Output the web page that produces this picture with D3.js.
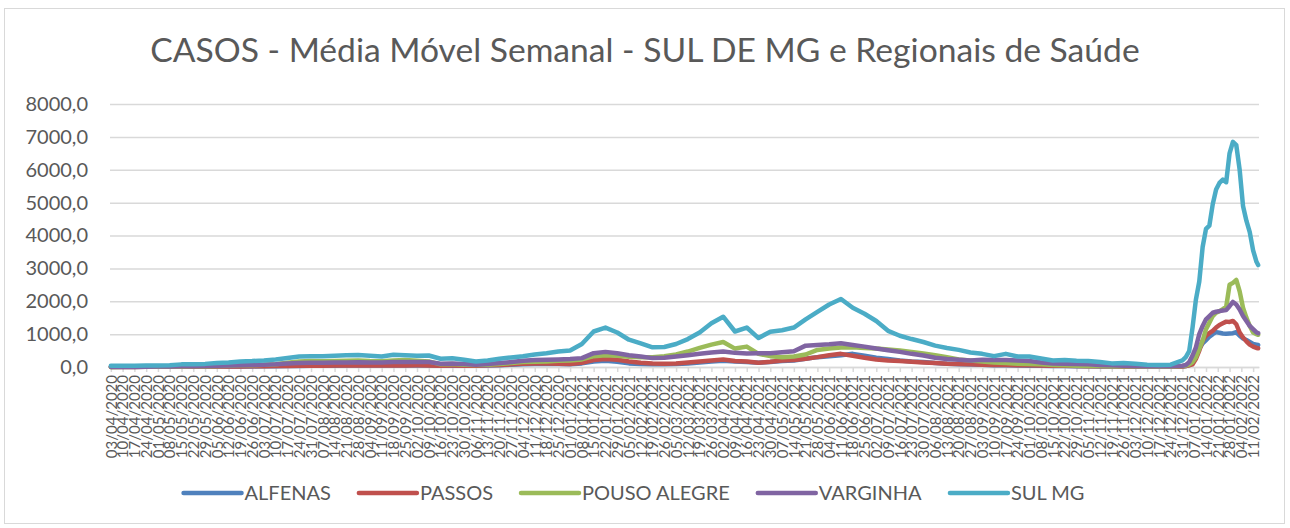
<!DOCTYPE html>
<html>
<head>
<meta charset="utf-8">
<script src="https://cdn.jsdelivr.net/npm/d3@7"></script>
<style>
  body { margin: 0; background: #fff; }
  svg { font-family: Lato, "Open Sans", sans-serif; }
</style>
</head>
<body>
<svg id="chart" width="1290" height="528"></svg>
<script>
// rótulos do eixo x (um por semana)
const tickLabels = [
  "03/04/2020","10/04/2020","17/04/2020","24/04/2020","01/05/2020","08/05/2020","15/05/2020","22/05/2020","29/05/2020","05/06/2020",
  "12/06/2020","19/06/2020","26/06/2020","03/07/2020","10/07/2020","17/07/2020","24/07/2020","31/07/2020","07/08/2020","14/08/2020",
  "21/08/2020","28/08/2020","04/09/2020","11/09/2020","18/09/2020","25/09/2020","02/10/2020","09/10/2020","16/10/2020","23/10/2020",
  "30/10/2020","06/11/2020","13/11/2020","20/11/2020","27/11/2020","04/12/2020","11/12/2020","18/12/2020","25/12/2020","01/01/2021",
  "08/01/2021","15/01/2021","22/01/2021","29/01/2021","05/02/2021","12/02/2021","19/02/2021","26/02/2021","05/03/2021","12/03/2021",
  "19/03/2021","26/03/2021","02/04/2021","09/04/2021","16/04/2021","23/04/2021","30/04/2021","07/05/2021","14/05/2021","21/05/2021",
  "28/05/2021","04/06/2021","11/06/2021","18/06/2021","25/06/2021","02/07/2021","09/07/2021","16/07/2021","23/07/2021","30/07/2021",
  "06/08/2021","13/08/2021","20/08/2021","27/08/2021","03/09/2021","10/09/2021","17/09/2021","24/09/2021","01/10/2021","08/10/2021",
  "15/10/2021","22/10/2021","29/10/2021","05/11/2021","12/11/2021","19/11/2021","26/11/2021","03/12/2021","10/12/2021","17/12/2021",
  "24/12/2021","31/12/2021","07/01/2022","14/01/2022","21/01/2022","28/01/2022","04/02/2022","11/02/2022"
];

// datas dos pontos: semanais até 31/12/2021, depois a cada 2 dias
const extraDates = [
  "02/01/2022","04/01/2022","06/01/2022","08/01/2022","10/01/2022","12/01/2022","14/01/2022","16/01/2022",
  "18/01/2022","20/01/2022","22/01/2022","24/01/2022","26/01/2022","28/01/2022","30/01/2022","01/02/2022",
  "03/02/2022","05/02/2022","07/02/2022","09/02/2022","11/02/2022","13/02/2022","14/02/2022"
];
const sampleDates = tickLabels.slice(0, 92).concat(extraDates);

const seriesNames = ["ALFENAS", "PASSOS", "POUSO ALEGRE", "VARGINHA", "SUL MG"];
const seriesColors = ["#4F81BD", "#C0504D", "#9BBB59", "#8064A2", "#4BACC6"];

const alfenas = [
  2,2,3,4,5,6,7,8,10,12, 14,16,18,22,26,30,33,36,38,40,
  42,44,43,42,44,46,48,46,38,40, 38,38,45,55,70,80,90,95,90,85,
  110,170,190,160,110,90,80,80,90,110, 140,170,190,170,150,130,150,180,200,250,
  300,330,360,400,340,280,240,200,170,150, 120,100,85,75,65,55,50,45,40,35,
  30,28,25,20,18,15,12,10,8,8, 8,15,
  30,60,150,350,550,720,820,920,1000,1060,1040,1020,1010,1020,1030,1060,950,870,820,760,700,680,670
];
const passos = [
  2,2,3,4,5,6,8,10,12,14, 16,18,20,24,28,32,35,38,40,42,
  44,46,45,44,46,48,50,48,40,42, 40,40,50,60,80,100,110,110,100,90,
  130,210,240,220,170,130,110,100,110,140, 170,200,230,180,170,130,160,200,210,250,
  300,360,400,340,280,230,200,180,160,140, 120,100,90,80,70,60,60,55,50,45,
  40,35,30,25,20,20,15,15,10,10, 10,15,
  30,50,80,250,500,800,950,1030,1100,1200,1280,1330,1380,1370,1400,1300,1050,900,780,680,620,580,570
];
const pousoAlegre = [
  3,4,6,8,10,12,16,20,25,30, 40,50,55,65,85,130,170,180,175,180,
  190,200,180,175,200,210,190,170,80,90, 70,60,70,90,120,150,160,170,190,200,
  230,330,360,340,310,300,300,330,380,470, 580,680,760,560,620,400,330,300,320,380,
  520,560,590,600,580,560,530,500,460,410, 360,300,230,200,170,140,120,100,90,80,
  60,50,40,30,30,25,20,20,15,15, 15,30,
  40,80,150,300,550,800,1150,1350,1550,1650,1700,1760,1830,2500,2560,2650,2300,1800,1500,1250,1050,1000,980
];
const varginha = [
  5,5,8,10,12,15,20,25,30,35, 45,55,60,70,85,110,125,130,130,135,
  140,145,140,140,150,150,150,150,100,110, 90,70,90,120,150,190,210,220,230,240,
  270,420,460,420,360,320,270,280,320,360, 400,440,470,430,410,420,420,450,480,650,
  670,690,720,670,620,560,510,460,400,350, 280,240,220,200,220,210,210,200,180,140,
  110,100,90,80,60,50,35,30,25,20, 20,40,
  60,150,350,600,1000,1250,1450,1550,1650,1680,1700,1720,1730,1850,1980,1900,1750,1550,1400,1250,1150,1050,1030
];
const sulMG = [
  40,40,40,45,45,50,80,80,95,120, 140,170,180,200,230,275,320,330,330,340,
  355,365,345,320,375,360,340,350,250,265, 220,170,200,250,290,330,380,420,470,500,
  700,1080,1200,1050,830,720,600,610,700,850, 1050,1330,1530,1080,1200,880,1075,1120,1200,1450,
  1680,1900,2070,1800,1620,1400,1100,950,850,760, 650,580,520,440,400,330,400,320,320,260,
  200,210,190,180,150,110,120,100,70,60, 70,200,
  300,480,1200,2050,2600,3650,4200,4300,4950,5400,5600,5700,5620,6500,6850,6750,6000,4900,4450,4100,3550,3200,3100
];
const seriesValues = [alfenas, passos, pousoAlegre, varginha, sulMG];

const yTicks = [0, 1000, 2000, 3000, 4000, 5000, 6000, 7000, 8000];

const width = 1290;
const height = 528;
const margin = ({top: 104, right: 31, bottom: 161, left: 110});
const textColor = "#595959";
const gridColor = "#D9D9D9";

const parse = d3.timeParse("%d/%m/%Y");
const fmt = d3.formatLocale({decimal: ",", thousands: ".", grouping: [3], currency: ["", ""]}).format(".1f");

const firstDay = parse(tickLabels[0]);
const lastDay = parse(extraDates[extraDates.length - 1]);

const x = d3.scaleTime()
    .domain([d3.timeHour.offset(firstDay, -12), d3.timeHour.offset(lastDay, 12)])
    .range([margin.left, width - margin.right]);

const y = d3.scaleLinear()
    .domain([0, 8000])
    .range([height - margin.bottom, margin.top]);

const svg = d3.select("#chart");

// moldura
svg.append("rect")
    .attr("x", 4.5).attr("y", 8.5)
    .attr("width", 1280).attr("height", 515)
    .attr("fill", "#fff")
    .attr("stroke", gridColor);

// título
const title = svg.append("text")
    .attr("x", 645).attr("y", 62)
    .attr("text-anchor", "middle")
    .attr("fill", textColor)
    .attr("font-size", 34)
    .text("CASOS - Média Móvel Semanal - SUL DE MG e Regionais de Saúde");
const tl = title.node().getComputedTextLength();
title.attr("font-size", 34 * 990 / tl);

// eixo y + grade
svg.append("g")
    .attr("transform", `translate(${margin.left},0)`)
    .call(d3.axisLeft(y).tickValues(yTicks).tickFormat(fmt)
        .tickSize(-(width - margin.left - margin.right)).tickPadding(22))
    .call(g => g.select(".domain").remove())
    .call(g => g.selectAll("line").attr("stroke", gridColor).attr("stroke-width", 1.5))
    .call(g => g.selectAll("text").attr("fill", textColor).attr("font-size", 20).attr("font-family", "Lato"));

// eixo x
svg.append("g")
    .attr("transform", `translate(0,${height - margin.bottom})`)
    .call(d3.axisBottom(x).tickValues(tickLabels.map(parse)).tickFormat(d3.timeFormat("%d/%m/%Y"))
        .tickSize(5).tickSizeOuter(0))
    .call(g => g.select(".domain").attr("stroke", gridColor).attr("stroke-width", 1.5))
    .call(g => g.selectAll("line").attr("stroke", gridColor).attr("stroke-width", 1.5))
    .call(g => g.selectAll("text")
        .attr("fill", textColor)
        .attr("font-size", 15)
        .attr("font-family", "Lato")
        .attr("text-anchor", "end")
        .attr("transform", "rotate(-90)")
        .attr("x", -8).attr("y", 0).attr("dy", "0.35em"));

// linhas
const line = d3.line()
    .x((d, i) => x(parse(sampleDates[i])))
    .y(d => y(d));

svg.append("g")
    .selectAll("path")
    .data(seriesValues)
    .join("path")
    .attr("d", d => line(d))
    .attr("fill", "none")
    .attr("stroke", (d, i) => seriesColors[i])
    .attr("stroke-width", 4.5)
    .attr("stroke-linejoin", "round")
    .attr("stroke-linecap", "round");

// legenda
const legendY = 493;
const sampleW = 58;
const legend = svg.append("g");
const items = legend.selectAll("g")
    .data(seriesNames)
    .join("g");
items.append("line")
    .attr("x1", 0).attr("x2", sampleW)
    .attr("y1", 0).attr("y2", 0)
    .attr("stroke", (d, i) => seriesColors[i])
    .attr("stroke-width", 4.5)
    .attr("stroke-linecap", "round");
items.append("text")
    .attr("x", sampleW + 3)
    .attr("dy", "0.35em")
    .attr("fill", textColor)
    .attr("font-size", 20)
    .text(d => d);

let widths = [];
items.each(function() { widths.push(this.getBBox().width); });
const gap = 28;
const total = d3.sum(widths) + gap * (widths.length - 1);
let cx = 634 - total / 2;
items.attr("transform", (d, i) => {
    const t = `translate(${cx},${legendY})`;
    cx += widths[i] + gap;
    return t;
});
</script>
</body>
</html>
